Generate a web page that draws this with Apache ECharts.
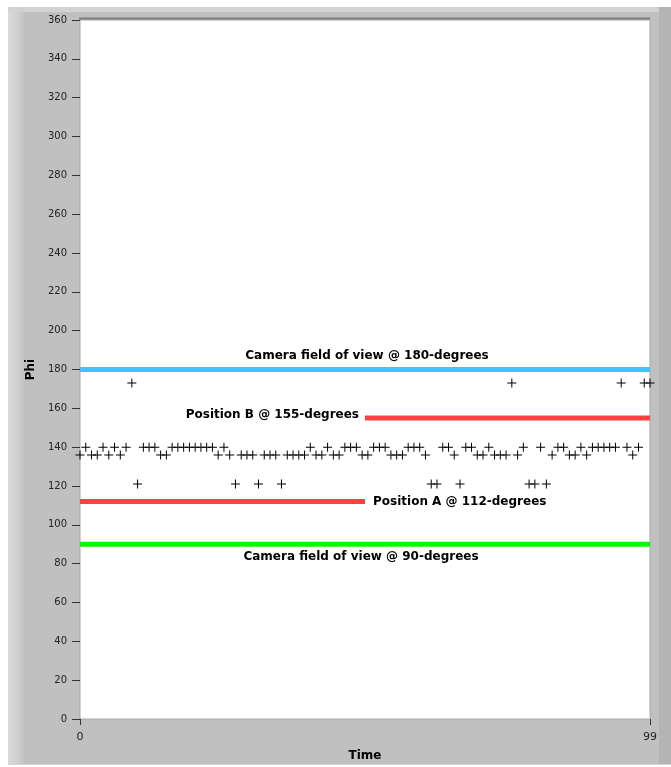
<!DOCTYPE html>
<html>
<head>
<meta charset="utf-8">
<title>Phi over time</title>
<script src="https://cdn.jsdelivr.net/npm/echarts@6/dist/echarts.min.js"></script>
<style>
  html, body { margin: 0; padding: 0; background: #ffffff; }
  #chart { width: 671px; height: 767px; }
</style>
</head>
<body>
<div id="chart"></div>
<script>
// Measured Phi (degrees) for each time sample 0..99
const phi = [
  136, 140, 136, 136, 140, 136, 140, 136, 140, 173,
  121, 140, 140, 140, 136, 136, 140, 140, 140, 140,
  140, 140, 140, 140, 136, 140, 136, 121, 136, 136,
  136, 121, 136, 136, 136, 121, 136, 136, 136, 136,
  140, 136, 136, 140, 136, 136, 140, 140, 140, 136,
  136, 140, 140, 140, 136, 136, 136, 140, 140, 140,
  136, 121, 121, 140, 140, 136, 121, 140, 140, 136,
  136, 140, 136, 136, 136, 173, 136, 140, 121, 121,
  140, 121, 136, 140, 140, 136, 136, 140, 136, 140,
  140, 140, 140, 140, 173, 140, 136, 140, 173, 173
];

// Reference levels (degrees) and the time where the target position switches
const fovHigh = 180;
const fovLow = 90;
const positionA = 112;
const positionB = 155;
const switchTime = 49.5;
const timeMin = 0;
const timeMax = 99;

// Annotation texts
const labelFovHigh = 'Camera field of view @ 180-degrees';
const labelFovLow = 'Camera field of view @ 90-degrees';
const labelPosA = 'Position A @ 112-degrees';
const labelPosB = 'Position B @ 155-degrees';

const FONT = '"DejaVu Sans", Verdana, sans-serif';
const BOLD = { fontFamily: FONT, fontWeight: 'bold', fontSize: 12, color: '#000' };

// Plus-shaped marker, 1 unit thick
const PLUS = 'path://M4,0H5V4H9V5H5V9H4V5H0V4H4Z';

const chart = echarts.init(document.getElementById('chart'), null, { renderer: 'canvas' });

function levelLine(name, color, x0, x1, y, labelItem) {
  const data = [[x0, y]];
  if (labelItem) data.push(labelItem);
  data.push([x1, y]);
  return {
    name: name,
    type: 'line',
    data: data,
    symbol: 'circle',
    symbolSize: 0,
    showSymbol: true,
    silent: true,
    z: 3,
    lineStyle: { color: color, width: 5 },
    itemStyle: { color: color },
    label: { show: false },
    animation: false
  };
}

const option = {
  animation: false,
  backgroundColor: '#ffffff',
  graphic: [
    { type: 'rect', z: -10, shape: { x: 8, y: 7, width: 663, height: 758 }, style: { fill: '#c0c0c0' } },
    { type: 'rect', z: -9, shape: { x: 8, y: 7, width: 16, height: 758 },
      style: { fill: new echarts.graphic.LinearGradient(0, 0, 1, 0, [
        { offset: 0, color: '#dadada' }, { offset: 0.6, color: '#d0d0d0' }, { offset: 1, color: '#c4c4c4' }]) } },
    { type: 'rect', z: -9, shape: { x: 8, y: 7, width: 663, height: 5 }, style: { fill: '#d2d2d2' } },
    { type: 'rect', z: -9, shape: { x: 659, y: 7, width: 12, height: 758 }, style: { fill: '#b4b4b4' } },
    { type: 'rect', z: -9, shape: { x: 8, y: 764, width: 663, height: 1 }, style: { fill: '#d8d8d8' } },
    { type: 'line', z: 10, shape: { x1: 79, y1: 18.5, x2: 650, y2: 18.5 }, style: { stroke: '#7c7c7c', lineWidth: 2 } }
  ],
  grid: {
    left: 80, right: 21, top: 20, bottom: 48,
    show: true, backgroundColor: '#ffffff', borderColor: '#a8a8a8', borderWidth: 1
  },
  xAxis: {
    type: 'value',
    min: timeMin, max: timeMax, interval: 99,
    name: 'Time', nameLocation: 'middle', nameGap: 31,
    nameTextStyle: { fontFamily: FONT, fontWeight: 'bold', fontSize: 12, color: '#000' },
    axisLine: { show: false },
    axisTick: { show: true, inside: false, length: 6, lineStyle: { color: '#333' } },
    axisLabel: { margin: 13, fontFamily: FONT, fontSize: 11, color: '#222' },
    splitLine: { show: false }
  },
  yAxis: {
    type: 'value',
    min: 0, max: 360, interval: 20,
    name: 'Phi', nameLocation: 'middle', nameGap: 42,
    nameTextStyle: { fontFamily: FONT, fontWeight: 'bold', fontSize: 12, color: '#000' },
    axisLine: { show: false },
    axisTick: { show: true, inside: false, length: 8, lineStyle: { color: '#333' } },
    axisLabel: { margin: 13, fontFamily: FONT, fontSize: 10, color: '#222' },
    splitLine: { show: false }
  },
  series: [
    levelLine('fovHigh', '#40c4ff', timeMin, timeMax, fovHigh, {
      value: [switchTime, fovHigh],
      label: { show: true, formatter: labelFovHigh, position: 'top', distance: 8, offset: [2, 0], ...BOLD }
    }),
    levelLine('fovLow', '#00ff00', timeMin, timeMax, fovLow, {
      value: [switchTime, fovLow],
      label: { show: true, formatter: labelFovLow, position: 'bottom', distance: 7, offset: [-4, 0], ...BOLD }
    }),
    levelLine('positionA', '#ff4040', timeMin, switchTime, positionA, null),
    levelLine('positionB', '#ff4040', switchTime, timeMax, positionB, null),
    {
      name: 'labels',
      type: 'scatter',
      symbolSize: 0,
      silent: true,
      z: 4,
      itemStyle: { opacity: 1, color: '#000' },
      data: [
        { value: [switchTime, positionA], label: { show: true, formatter: labelPosA, position: 'right', distance: 8, offset: [0, 0], ...BOLD } },
        { value: [switchTime, positionB], label: { show: true, formatter: labelPosB, position: 'left', distance: 6, offset: [0, -3], ...BOLD } }
      ]
    },
    {
      name: 'Phi',
      type: 'scatter',
      symbol: PLUS,
      symbolSize: 9,
      z: 5,
      itemStyle: { color: '#000000', opacity: 1 },
      data: phi.map((v, i) => [i, v])
    }
  ]
};

chart.setOption(option);
</script>
</body>
</html>
